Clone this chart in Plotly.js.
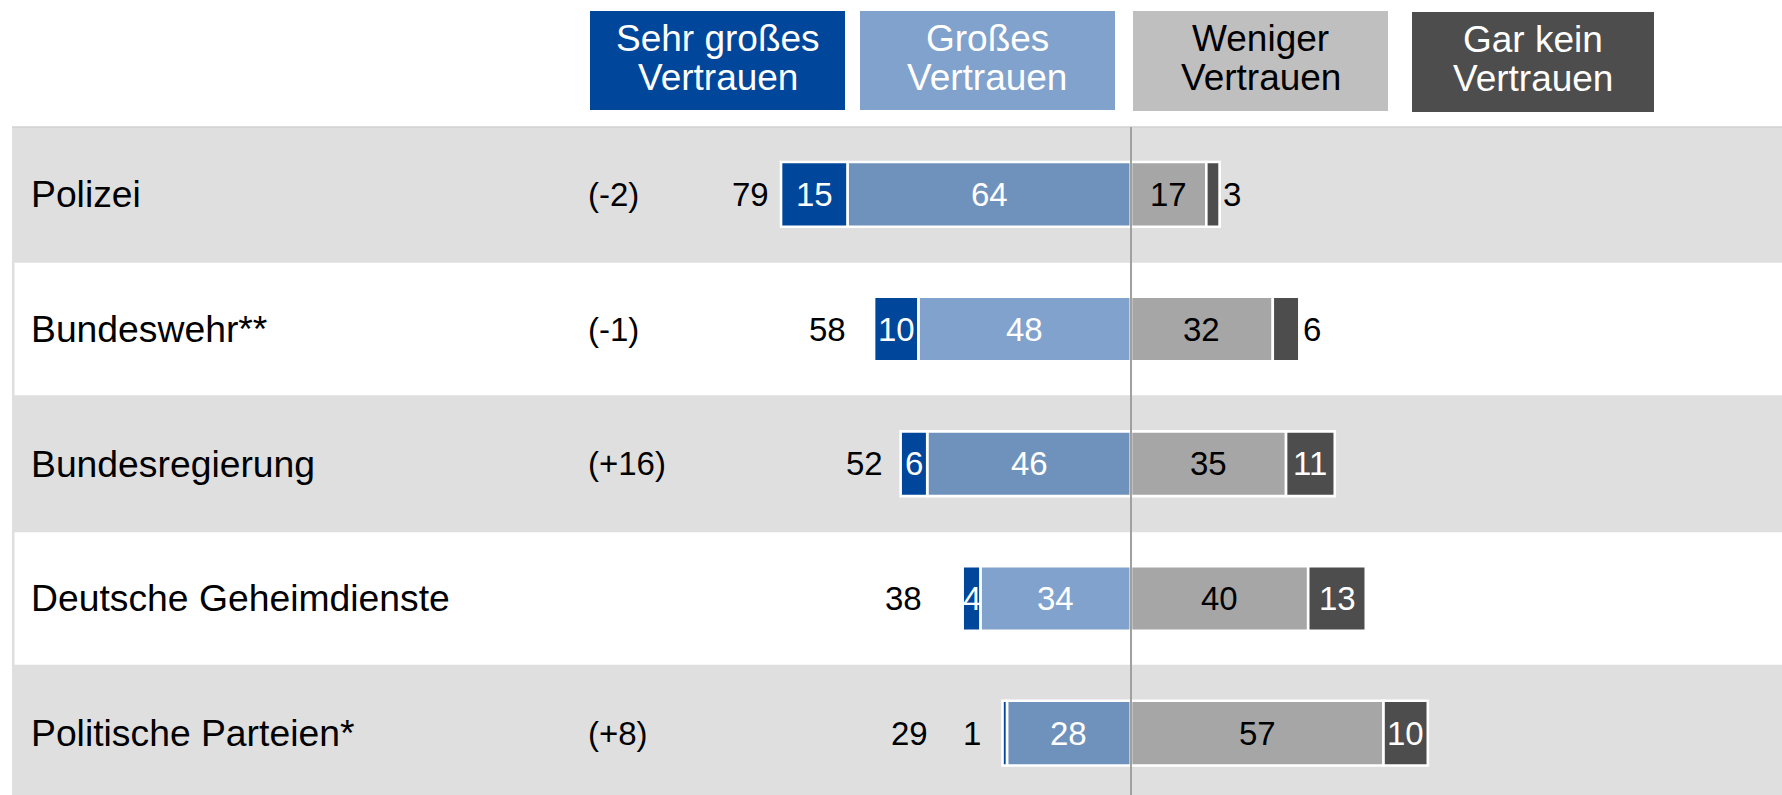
<!DOCTYPE html>
<html>
<head>
<meta charset="utf-8">
<script src="https://cdn.plot.ly/plotly-3.0.1.min.js"></script>
<style>html,body{margin:0;padding:0;background:#fff;}#chart{width:1782px;height:795px;}</style>
</head>
<body>
<div id="chart"></div>
<script>
// ---------- data ----------
const categories = ['Polizei', 'Bundeswehr**', 'Bundesregierung', 'Deutsche Geheimdienste', 'Politische Parteien*'];
const sehrGross = [15, 10, 6, 4, 1];
const gross     = [64, 48, 46, 34, 28];
const weniger   = [17, 32, 35, 40, 57];
const garKein   = [3, 6, 11, 13, 10];
const totals    = [79, 58, 52, 38, 29];
const changes   = ['(-2)', '(-1)', '(+16)', '', '(+8)'];
const legendLabels = [['Sehr großes', 'Vertrauen'], ['Großes', 'Vertrauen'], ['Weniger', 'Vertrauen'], ['Gar kein', 'Vertrauen']];

// ---------- style / layout helpers ----------
const W = 1782, H = 795;
const FONT = 'Liberation Sans, Arial, sans-serif';
const C_SEHR = '#00469A', C_GROSS_W = '#80A2CD', C_GROSS_G = '#6F92BC', C_WEN = '#A6A6A6', C_GAR = '#4D4D4D';
const LEG_COLORS = ['#00469A', '#80A2CD', '#BFBFBF', '#4D4D4D'];
const LEG_TEXT = ['#FFFFFF', '#FFFFFF', '#000000', '#FFFFFF'];
const LEG_BOX = [[590, 845, 11, 110], [860, 1115, 11, 110], [1133, 1388, 11, 111], [1412, 1654, 12, 112]];
const totalGap = [2.3, 5.9, 3.6, 8.8, 16.4];     // label offset left of bar (units)
const outsideLeftGap = [0, 0, 0, 0, 4.4];          // Sehr großes label placed outside
const outsideRight = [true, true, false, false, false]; // Gar kein label placed outside
const px = v => v / W, py = v => 1 - v / H;
const rowGray = i => i % 2 === 0;

const lineW = 2.6;
const traces = [
  {name: 'Großes Vertrauen', x: gross.map(v => -v), y: categories,
   marker: {color: categories.map((c, i) => rowGray(i) ? C_GROSS_G : C_GROSS_W), line: {color: '#fff', width: lineW}}},
  {name: 'Sehr großes Vertrauen', x: sehrGross.map(v => -v), y: categories,
   marker: {color: C_SEHR, line: {color: '#fff', width: lineW}}},
  {name: 'Weniger Vertrauen', x: weniger, y: categories,
   marker: {color: C_WEN, line: {color: '#fff', width: lineW}}},
  {name: 'Gar kein Vertrauen', x: garKein, y: categories,
   marker: {color: C_GAR, line: {color: '#fff', width: lineW}}}
].map(t => Object.assign(t, {type: 'bar', orientation: 'h', hoverinfo: 'skip', showlegend: false}));

const ann = [];
const numFont = (color) => ({family: FONT, size: 33, color: color});
categories.forEach((c, i) => {
  // category label
  ann.push({xref: 'paper', yref: 'y', x: px(28.7), y: c, xanchor: 'left', yanchor: 'middle',
            text: c, showarrow: false, font: {family: FONT, size: 37.3, color: '#000'}});
  // change label
  if (changes[i]) ann.push({xref: 'paper', yref: 'y', x: px(586), y: c, xanchor: 'left', yanchor: 'middle',
            text: changes[i], showarrow: false, font: numFont('#000')});
  // total label
  const leftEdge = -(sehrGross[i] + gross[i]);
  ann.push({x: leftEdge - totalGap[i], y: c, xanchor: 'right', yanchor: 'middle',
            text: String(totals[i]), showarrow: false, font: numFont('#000')});
  // Großes
  ann.push({x: -gross[i] / 2, y: c, text: String(gross[i]), showarrow: false, font: numFont('#fff')});
  // Sehr großes
  if (outsideLeftGap[i] > 0) {
    ann.push({x: leftEdge - outsideLeftGap[i], y: c, xanchor: 'right', text: String(sehrGross[i]), showarrow: false, font: numFont('#000')});
  } else {
    ann.push({x: -gross[i] - sehrGross[i] / 2, y: c, text: String(sehrGross[i]), showarrow: false, font: numFont('#fff')});
  }
  // Weniger
  ann.push({x: weniger[i] / 2, y: c, text: String(weniger[i]), showarrow: false, font: numFont('#000')});
  // Gar kein
  const rightEdge = weniger[i] + garKein[i];
  if (outsideRight[i]) {
    ann.push({x: rightEdge + 0.4, y: c, xanchor: 'left', text: String(garKein[i]), showarrow: false, font: numFont('#000')});
  } else {
    ann.push({x: weniger[i] + garKein[i] / 2, y: c, text: String(garKein[i]), showarrow: false, font: numFont('#fff')});
  }
});

const shapes = [];
// table background
shapes.push({type: 'rect', layer: 'below', xref: 'paper', yref: 'y', x0: px(12), x1: 1, y0: -0.5, y1: categories.length,
             fillcolor: '#DFDFDF', line: {width: 0}});
shapes.push({type: 'line', layer: 'below', xref: 'paper', yref: 'y', x0: px(12), x1: 1, y0: -0.5, y1: -0.5,
             line: {color: '#D2D2D2', width: 1.5}});
categories.forEach((c, i) => {
  if (!rowGray(i)) shapes.push({type: 'rect', layer: 'below', xref: 'paper', yref: 'y', x0: px(14.5), x1: 1,
             y0: i - 0.5 + 0.008, y1: i + 0.5 - 0.008, fillcolor: '#FFFFFF', line: {width: 0}});
});
// zero line
shapes.push({type: 'line', layer: 'above', xref: 'x', yref: 'y', x0: 0, x1: 0, y0: -0.5, y1: categories.length,
             line: {color: '#A0A0A0', width: 2}});
// legend boxes
LEG_BOX.forEach((b, k) => {
  shapes.push({type: 'rect', xref: 'paper', yref: 'paper', x0: px(b[0]), x1: px(b[1]), y0: py(b[3]), y1: py(b[2]),
               fillcolor: LEG_COLORS[k], line: {width: 0}});
  const cx = px((b[0] + b[1]) / 2);
  ann.push({xref: 'paper', yref: 'paper', x: cx, y: py(b[2] + 27.5), xanchor: 'center', yanchor: 'middle',
            text: legendLabels[k][0], showarrow: false, font: {family: FONT, size: 37, color: LEG_TEXT[k]}});
  ann.push({xref: 'paper', yref: 'paper', x: cx, y: py(b[2] + 66.5), xanchor: 'center', yanchor: 'middle',
            text: legendLabels[k][1], showarrow: false, font: {family: FONT, size: 37, color: LEG_TEXT[k]}});
});

const x0px = 1131, unit = 4.43;
const layout = {
  width: W, height: H,
  margin: {l: 0, r: 0, t: 0, b: 0, pad: 0},
  paper_bgcolor: '#FFFFFF', plot_bgcolor: 'rgba(0,0,0,0)',
  barmode: 'relative', bargap: 0.52,
  showlegend: false,
  xaxis: {range: [-x0px / unit, (W - x0px) / unit], visible: false, fixedrange: true, zeroline: false},
  yaxis: {type: 'category', categoryarray: categories, range: [-0.5 + (H - 127) / 134.7, -0.5 - 127 / 134.7],
          visible: false, fixedrange: true},
  shapes: shapes,
  annotations: ann,
  font: {family: FONT}
};
Plotly.newPlot('chart', traces, layout, {displayModeBar: false, staticPlot: true});
</script>
</body>
</html>
